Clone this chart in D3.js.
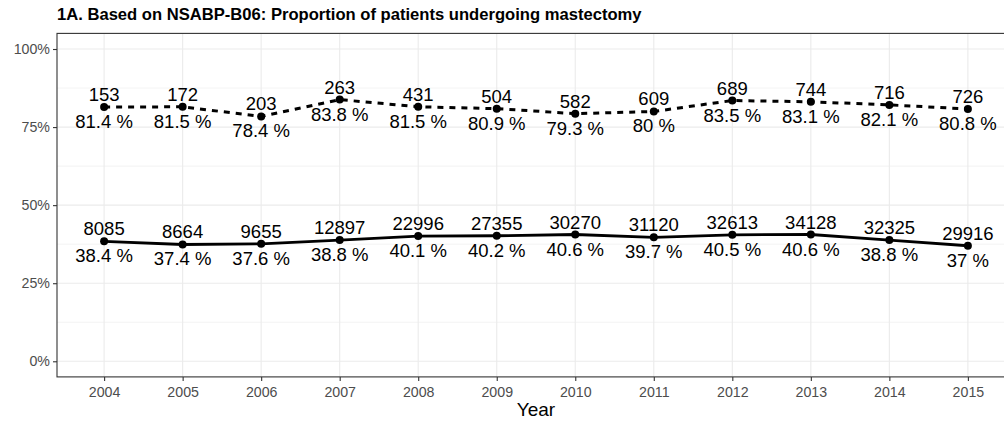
<!DOCTYPE html>
<html><head><meta charset="utf-8">
<script src="https://cdn.jsdelivr.net/npm/d3@7"></script>
<style>body{margin:0;background:#fff;} svg{display:block;font-family:"Liberation Sans",Arial,sans-serif;}</style>
</head><body><svg id="c" width="1004" height="421"></svg>
<script>
const years = ["2004","2005","2006","2007","2008","2009","2010","2011","2012","2013","2014","2015"];
const dashedCounts = [153,172,203,263,431,504,582,609,689,744,716,726];
const dashedPct = [81.4,81.5,78.4,83.8,81.5,80.9,79.3,80,83.5,83.1,82.1,80.8];
const solidCounts = [8085,8664,9655,12897,22996,27355,30270,31120,32613,34128,32325,29916];
const solidPct = [38.4,37.4,37.6,38.8,40.1,40.2,40.6,39.7,40.5,40.6,38.8,37];
const yTicks = [0,0.25,0.5,0.75,1];
const yMinor = [0.125,0.375,0.625,0.875];

const svg = d3.select("#c");
const L = 57, R = 1015, T = 33.4, B = 376.9;
const step = (R - L) / (years.length - 1 + 1.2);
const x = d3.scalePoint().domain(years).range([L + 0.6*step, R - 0.6*step]);
const y = d3.scaleLinear().domain([-0.05, 1.05]).range([B, T]);

// grid
const g = svg.append("g");
g.selectAll(".mn").data(yMinor).join("line").attr("x1",L).attr("x2",R)
  .attr("y1",d=>y(d)).attr("y2",d=>y(d)).attr("stroke","#EBEBEB").attr("stroke-width",0.6);
g.selectAll(".mj").data(yTicks).join("line").attr("x1",L).attr("x2",R)
  .attr("y1",d=>y(d)).attr("y2",d=>y(d)).attr("stroke","#EBEBEB").attr("stroke-width",1.1);
g.selectAll(".vx").data(years).join("line").attr("y1",T).attr("y2",B)
  .attr("x1",d=>x(d)).attr("x2",d=>x(d)).attr("stroke","#EBEBEB").attr("stroke-width",1.1);

// axes
const xAxis = svg.append("g").attr("transform",`translate(0,${B})`)
  .call(d3.axisBottom(x).tickSize(4).tickPadding(6));
const yAxis = svg.append("g").attr("transform",`translate(${L},0)`)
  .call(d3.axisLeft(y).tickValues(yTicks).tickFormat(d=>Math.round(d*100)+"%").tickSize(4).tickPadding(3));
[xAxis,yAxis].forEach(a=>{
  a.select(".domain").remove();
  a.selectAll(".tick line").attr("stroke","#333333").attr("stroke-width",1.1);
  a.selectAll(".tick text").attr("fill","#4D4D4D").style("font-size","14.2px").style("font-family","Liberation Sans, Arial, sans-serif");
});

// panel border
svg.append("rect").attr("x",L).attr("y",T).attr("width",R-L).attr("height",B-T)
  .attr("fill","none").attr("stroke","#333333").attr("stroke-width",1.1);

function series(counts, pct, dash){
  const data = years.map((yr,i)=>({yr, c:counts[i], p:pct[i]}));
  const line = d3.line().x(d=>x(d.yr)).y(d=>y(d.p/100));
  svg.append("path").datum(data).attr("d",line).attr("fill","none").attr("stroke","#000")
    .attr("stroke-width",dash?3:2.8).attr("stroke-dasharray",dash?"6,6":null);
  svg.append("g").selectAll("circle").data(data).join("circle")
    .attr("cx",d=>x(d.yr)).attr("cy",d=>y(d.p/100)).attr("r",4).attr("fill","#000");
  svg.append("g").selectAll("text").data(data).join("text")
    .attr("x",d=>x(d.yr)).attr("y",d=>y(d.p/100)-6).attr("text-anchor","middle")
    .style("font-size","18.5px").attr("fill","#000").text(d=>d.c);
  svg.append("g").selectAll("text").data(data).join("text")
    .attr("x",d=>x(d.yr)).attr("y",d=>y(d.p/100)+21).attr("text-anchor","middle")
    .style("font-size","18.5px").attr("fill","#000").text(d=>d.p+" %");
}
series(dashedCounts, dashedPct, true);
series(solidCounts, solidPct, false);

svg.append("text").attr("x",L).attr("y",20).style("font-size","16.6px").style("font-weight","bold")
  .attr("fill","#000").text("1A. Based on NSABP-B06: Proportion of patients undergoing mastectomy");
svg.append("text").attr("x",(L+R)/2).attr("y",416).attr("text-anchor","middle")
  .style("font-size","19px").attr("fill","#000").text("Year");
</script></body></html>
